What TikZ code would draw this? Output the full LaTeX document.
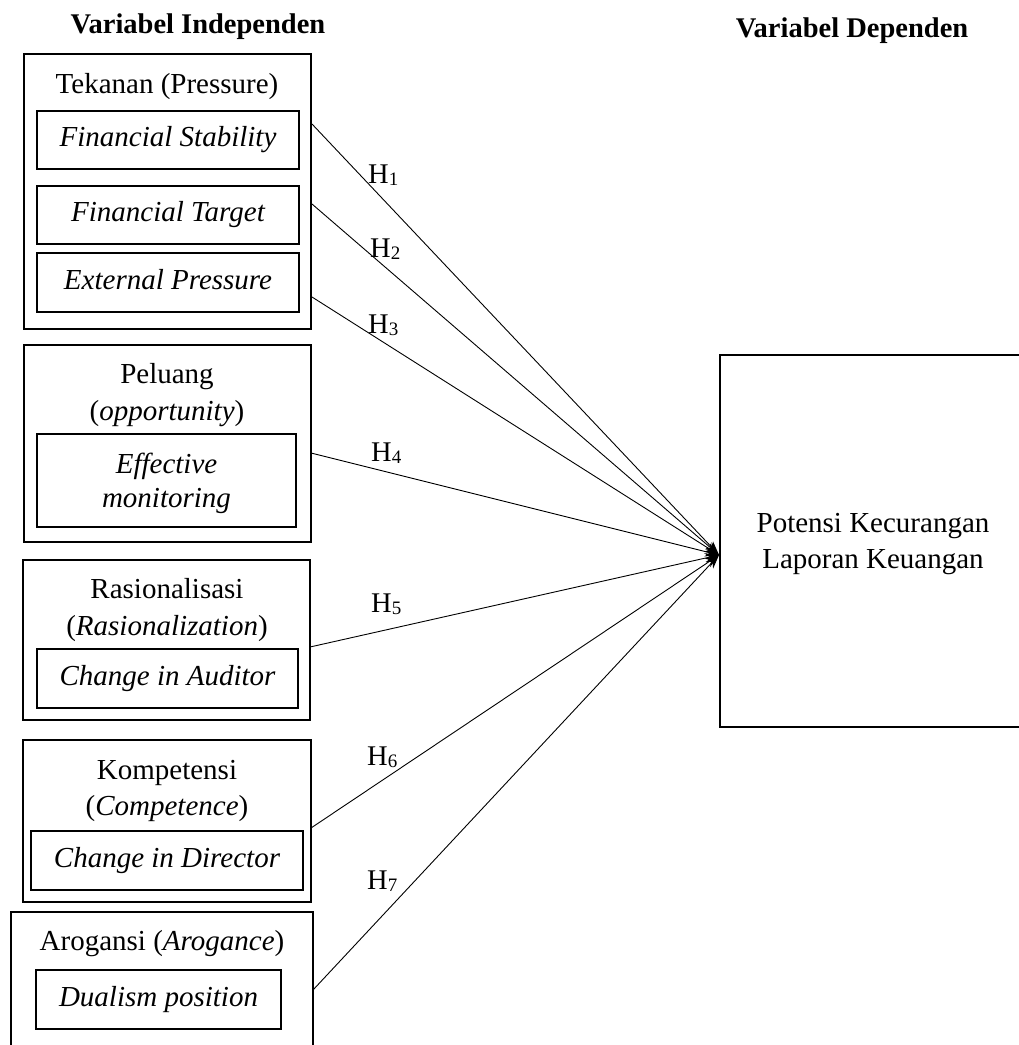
\documentclass[tikz,border=0pt]{standalone}
\usepackage{fontspec}
\setmainfont{Liberation Serif}
\usetikzlibrary{arrows.meta}
\newcommand\hyp[1]{H\raisebox{-2pt}{\fontsize{19}{19}\selectfont #1}}
\begin{document}
\begin{tikzpicture}[x=1pt,y=-1pt,
  every node/.style={font=\fontsize{29}{34}\selectfont, inner sep=0pt},
  outbox/.style={draw, line width=2pt, rectangle},
  inbox/.style={draw, line width=2pt, rectangle, text height=19pt, text depth=6pt, font=\fontsize{29}{34}\selectfont\itshape},
  title/.style={anchor=base},
  head/.style={anchor=base, font=\fontsize{28.5}{34}\selectfont\bfseries},
  hlab/.style={anchor=base west, font=\fontsize{28.5}{34}\selectfont},
  conn/.style={line width=0.9pt, -{Stealth[length=14pt,width=10pt]}}
]
\useasboundingbox (0,0) rectangle (1019,1045);
\clip (0,0) rectangle (1019,1045);
% headers
\node[head] (h1) at (198,33) {Variabel Independen};
\node[head] (h2) at (852,37) {Variabel Dependen};
% Tekanan
\node[outbox, minimum width=287pt, minimum height=275pt] (tek) at (167.5,191.5) {};
\node[title] (tekt) at (167,93) {Tekanan (Pressure)};
\node[inbox, minimum width=262pt, minimum height=58pt] (fs) at (168,140) {Financial Stability};
\node[inbox, minimum width=262pt, minimum height=58pt] (ft) at (168,215) {Financial Target};
\node[inbox, minimum width=262pt, minimum height=59pt] (ep) at (168,282.5) {External Pressure};
% Peluang
\node[outbox, minimum width=287pt, minimum height=197pt] (pel) at (167.5,443.5) {};
\node[title] (pelt1) at (167,383) {Peluang};
\node[title] (pelt2) at (167,420) {(\textit{opportunity})};
\node[outbox, minimum width=259pt, minimum height=93pt] (em) at (166.5,480.5) {};
\node[title] (emt1) at (166.5,473) {\textit{Effective}};
\node[title] (emt2) at (166.5,507) {\textit{monitoring}};
% Rasionalisasi
\node[outbox, minimum width=287pt, minimum height=160pt] (ras) at (166.5,640) {};
\node[title] (rast1) at (167,598) {Rasionalisasi};
\node[title] (rast2) at (167,635) {(\textit{Rasionalization})};
\node[inbox, minimum width=261pt, minimum height=59pt] (ca) at (167.5,678.5) {Change in Auditor};
% Kompetensi
\node[outbox, minimum width=288pt, minimum height=162pt] (kom) at (167,821) {};
\node[title] (komt1) at (167,779) {Kompetensi};
\node[title] (komt2) at (167,815) {(\textit{Competence})};
\node[inbox, minimum width=272pt, minimum height=59pt] (cd) at (167,860.5) {Change in Director};
% Arogansi
\node[outbox, minimum width=302pt, minimum height=160pt] (aro) at (162,992) {};
\node[title] (arot) at (162,950) {Arogansi (\textit{Arogance})};
\node[inbox, minimum width=245pt, minimum height=59pt] (dp) at (158.5,999.5) {Dualism position};
% Dependent
\node[outbox, minimum width=320pt, minimum height=372pt] (dep) at (880,541) {};
\node[title] (dept1) at (873,532) {Potensi Kecurangan};
\node[title] (dept2) at (873,568) {Laporan Keuangan};
% connector points
\coordinate (s1) at (312,124);
\coordinate (s2) at (312,204);
\coordinate (s3) at (312,297);
\coordinate (s4) at (311,453);
\coordinate (s5) at (310,647);
\coordinate (s6) at (311,828);
\coordinate (s7) at (313,990);
\coordinate (t) at (dep.west |- 0,555);
\foreach \i in {1,...,7} \draw[conn] (s\i) -- (t);
% labels
\node[hlab] (l1) at (368,183) {\hyp{1}};
\node[hlab] (l2) at (370,257) {\hyp{2}};
\node[hlab] (l3) at (368,333) {\hyp{3}};
\node[hlab] (l4) at (371,461) {\hyp{4}};
\node[hlab] (l5) at (371,612) {\hyp{5}};
\node[hlab] (l6) at (367,765) {\hyp{6}};
\node[hlab] (l7) at (367,889) {\hyp{7}};
\end{tikzpicture}
\end{document}
